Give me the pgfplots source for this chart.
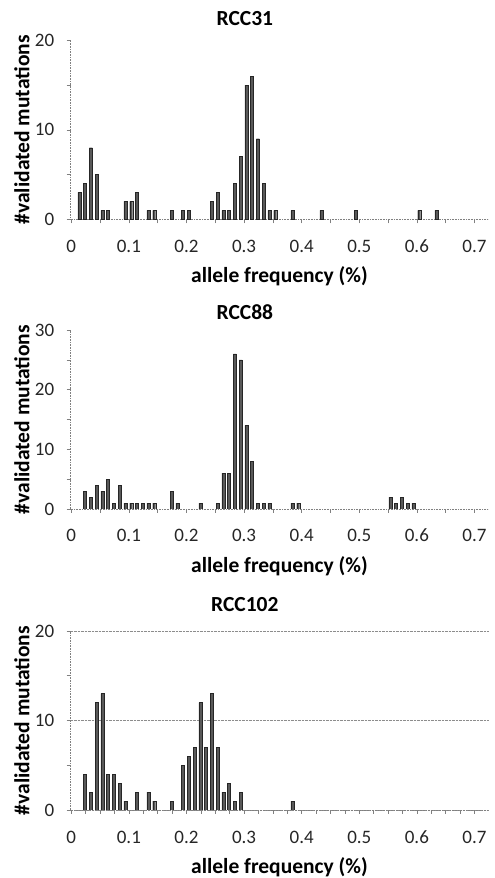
\documentclass[border=0pt]{standalone}
\usepackage{pgfplots}
\pgfplotsset{compat=1.18}
\usepackage{fontspec}
\setmainfont{Carlito}

\pgfplotsset{
  barsty/.style={fill=black!65, draw=black!85, line width=0.3pt},
  excelstyle/.style={
    scale only axis, width=417.6pt, height=179pt,
    xmin=-0.001, xmax=0.724, ymin=0,
    axis lines*=left,
    axis line style={black!50, densely dotted, line width=0.6pt},
    xtick={0,0.1,0.2,0.3,0.4,0.5,0.6,0.7},
    xticklabels={0,0.1,0.2,0.3,0.4,0.5,0.6,0.7},
    minor x tick num=1,
    minor y tick num=1,
    tick align=outside,
    major tick length=4pt, minor tick length=4pt,
    every tick/.style={black!50, line width=0.5pt},
    /pgf/number format/assume math mode=true,
    tick label style={font=\fontsize{19}{22}\selectfont, text=black!85},
    xticklabel style={anchor=base, yshift=-29pt},
    yticklabel style={xshift=-9pt},
    label style={font=\bfseries\fontsize{21.5}{25}\selectfont},
    xlabel={allele frequency (\%)},
    ylabel={\#validated mutations},
    xlabel style={at={(axis description cs:0.5,0)}, anchor=center, yshift=-57.4pt},
    ylabel style={at={(axis description cs:0,0.5)}, anchor=center, rotate=0, yshift=48.7pt},
    title style={at={(axis description cs:0.417,1)}, anchor=center, font=\bfseries\fontsize{21.5}{25}\selectfont},
    ybar, bar width=3pt,
  }
}

\begin{document}
\begin{tikzpicture}
\useasboundingbox (0,0) rectangle (495pt,878pt);

% RCC31
\begin{axis}[excelstyle, at={(70.7pt,658.7pt)}, anchor=south west,
  ymax=20, ytick={0,10,20}, title={RCC31}, title style={yshift=15.7pt}]
\addplot[barsty] coordinates {
(0.014,3) (0.024,4) (0.034,8) (0.044,5) (0.054,1) (0.064,1)
(0.094,2) (0.104,2) (0.114,3) (0.134,1) (0.144,1) (0.174,1)
(0.194,1) (0.204,1) (0.244,2) (0.254,3) (0.264,1) (0.274,1)
(0.284,4) (0.294,7) (0.304,15) (0.314,16) (0.324,9) (0.334,4)
(0.344,1) (0.354,1) (0.384,1) (0.434,1) (0.494,1) (0.604,1) (0.634,1)
};
\end{axis}

% RCC88
\begin{axis}[excelstyle, at={(70.7pt,369pt)}, anchor=south west,
  ymax=30, ytick={0,10,20,30}, title={RCC88}, title style={yshift=12.3pt}]
\addplot[barsty] coordinates {
(0.024,3) (0.034,2) (0.044,4) (0.054,3) (0.064,5) (0.074,1) (0.084,4)
(0.094,1) (0.104,1) (0.114,1) (0.124,1) (0.134,1) (0.144,1)
(0.174,3) (0.184,1) (0.224,1) (0.254,1) (0.264,6) (0.274,6)
(0.284,26) (0.294,25) (0.304,14) (0.314,8) (0.324,1) (0.334,1) (0.344,1)
(0.384,1) (0.394,1) (0.554,2) (0.564,1) (0.574,2) (0.584,1) (0.594,1)
};
\end{axis}

% RCC102
\begin{axis}[excelstyle, at={(70.7pt,68pt)}, anchor=south west,
  ymax=20, ytick={0,10,20}, title={RCC102}, title style={yshift=20pt},
  minor x tick num=3,
  ymajorgrids, grid style={black!45, densely dotted, line width=0.6pt}]
\addplot[barsty] coordinates {
(0.024,4) (0.034,2) (0.044,12) (0.054,13) (0.064,4) (0.074,4) (0.084,3)
(0.094,1) (0.114,2) (0.134,2) (0.144,1) (0.174,1)
(0.194,5) (0.204,6) (0.214,7) (0.224,12) (0.234,7) (0.244,13) (0.254,7)
(0.264,2) (0.274,3) (0.284,1) (0.294,2) (0.384,1)
};
\end{axis}
\end{tikzpicture}
\end{document}
